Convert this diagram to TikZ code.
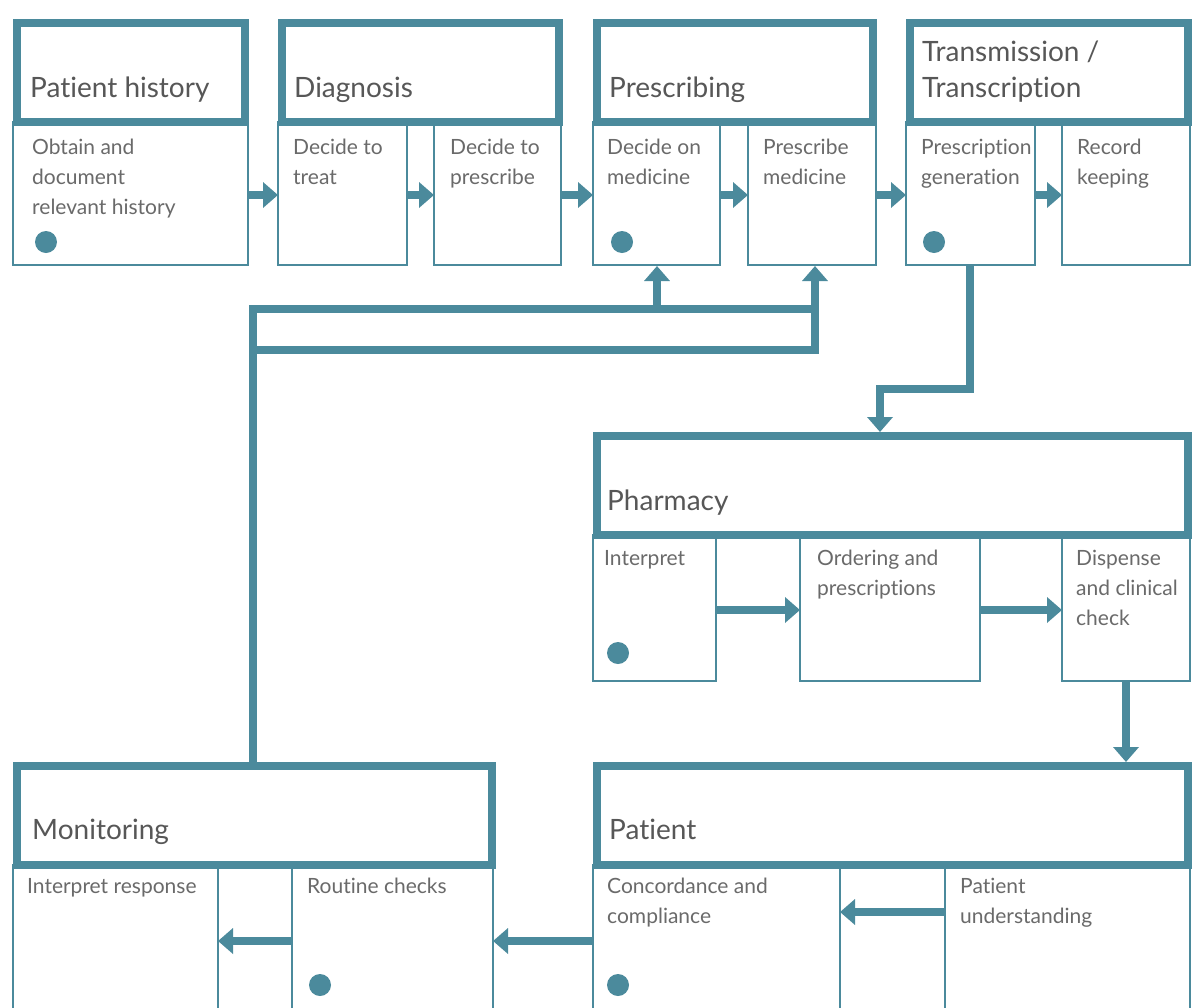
\documentclass[tikz,border=0pt]{standalone}
\usepackage{fontspec}
\setmainfont[Ligatures=NoCommon]{Lato}
\usetikzlibrary{arrows.meta}
\definecolor{tealc}{HTML}{4B8A9C}
\definecolor{txt}{HTML}{575757}
\definecolor{stxt}{HTML}{6A6A6A}
\tikzset{
  hdr/.style={draw=tealc, line width=8pt, fill=white, inner sep=0pt, outer sep=0pt, anchor=north west},
  subbox/.style={draw=tealc, line width=2.5pt, fill=white, inner sep=0pt, outer sep=0pt, anchor=north west},
  lbl/.style={text=txt, font=\fontsize{28}{36}\selectfont, anchor=base west, inner sep=0pt, align=left},
  stext/.style={text=stxt, font=\fontsize{21}{30}\selectfont, anchor=north west, inner sep=0pt, align=left},
  tdot/.style={circle, fill=tealc, minimum size=22pt, inner sep=0pt},
  arr/.style={draw=tealc, line width=8pt, -{Triangle[width=25pt,length=15pt]}},
  conn/.style={draw=tealc, line width=7.5pt, line cap=rect},
}
\begin{document}
\begin{tikzpicture}[x=1pt, y=-1pt]
\useasboundingbox (0,0) rectangle (1197,1007);
\begin{scope}
\clip (0,0) rectangle (1197,1007);
% ---------- top row: sub boxes ----------
\node[subbox, minimum width=235pt, minimum height=143pt] (ph1) at (13,122) {};
\node[subbox, minimum width=129pt, minimum height=143pt] (dt) at (278,122) {};
\node[subbox, minimum width=127pt, minimum height=143pt] (dp) at (434,122) {};
\node[subbox, minimum width=127pt, minimum height=143pt] (dm) at (593,122) {};
\node[subbox, minimum width=128pt, minimum height=143pt] (pm) at (748,122) {};
\node[subbox, minimum width=129pt, minimum height=143pt] (pg) at (906,122) {};
\node[subbox, minimum width=128pt, minimum height=143pt] (rk) at (1062,122) {};
% headers
\node[hdr, minimum width=228pt, minimum height=99pt] (ph) at (17,23) {};
\node[hdr, minimum width=277pt, minimum height=99pt] (dg) at (282,23) {};
\node[hdr, minimum width=276pt, minimum height=99pt] (pr) at (597,23) {};
\node[hdr, minimum width=278pt, minimum height=99pt] (tr) at (910,23) {};
% header labels
\node[lbl] (lph) at (30,97) {Patient history};
\node[lbl] (ldg) at (294,97) {Diagnosis};
\node[lbl] (lpr) at (609,97) {Prescribing};
\node[lbl] (ltr1) at (922,61) {Transmission /};
\node[lbl] (ltr2) at (922,97) {Transcription};
% sub texts
\node[stext] (t1) at (32,139) {Obtain and\\document\\relevant history};
\node[stext] (t2) at (293,139) {Decide to\\treat};
\node[stext] (t3) at (450,139) {Decide to\\prescribe};
\node[stext] (t4) at (607,139) {Decide on\\medicine};
\node[stext] (t5) at (763,139) {Prescribe\\medicine};
\node[stext] (t6) at (921,139) {Prescription\\generation};
\node[stext] (t7) at (1077,139) {Record\\keeping};
% dots
\node[tdot] (d1) at (46,242) {};
\node[tdot] (d2) at (622,242) {};
\node[tdot] (d3) at (934,242) {};
% top arrows
\draw[arr] (ph1.east |- 0,195) -- (dt.west |- 0,195);
\draw[arr] (dt.east |- 0,195) -- (dp.west |- 0,195);
\draw[arr] (dp.east |- 0,195) -- (dm.west |- 0,195);
\draw[arr] (dm.east |- 0,195) -- (pm.west |- 0,195);
\draw[arr] (pm.east |- 0,195) -- (pg.west |- 0,195);
\draw[arr] (pg.east |- 0,195) -- (rk.west |- 0,195);

% ---------- pharmacy ----------
\node[subbox, minimum width=123pt, minimum height=146pt] (ip) at (593,535) {};
\node[subbox, minimum width=180pt, minimum height=146pt] (op) at (800,535) {};
\node[subbox, minimum width=128pt, minimum height=146pt] (dc) at (1062,535) {};
\node[hdr, minimum width=591pt, minimum height=99pt] (phar) at (597,436) {};
\node[lbl] (lphar) at (607,510) {Pharmacy};
\node[stext] (t8) at (604,550) {Interpret};
\node[stext] (t9) at (817,550) {Ordering and\\prescriptions};
\node[stext] (t10) at (1076,550) {Dispense\\and clinical\\check};
\node[tdot] (d4) at (618,653) {};
\draw[arr] (ip.east |- 0,610) -- (op.west |- 0,610);
\draw[arr] (op.east |- 0,610) -- (dc.west |- 0,610);

% ---------- patient ----------
\node[subbox, minimum width=247pt, minimum height=155pt] (pc) at (593,865) {};
\node[subbox, minimum width=245pt, minimum height=155pt] (pu) at (945,865) {};
\node[hdr, minimum width=591pt, minimum height=99pt] (pat) at (597,766) {};
\node[lbl] (lpat) at (609,839) {Patient};
\node[stext] (t11) at (607,878) {Concordance and\\compliance};
\node[stext] (t12) at (960,878) {Patient\\understanding};
\node[tdot] (d5) at (618,985) {};
\draw[arr] (pu.west |- 0,912) -- (pc.east |- 0,912);

% ---------- monitoring ----------
\node[subbox, minimum width=205pt, minimum height=155pt] (ir) at (13,865) {};
\node[subbox, minimum width=201pt, minimum height=155pt] (rc) at (292,865) {};
\node[hdr, minimum width=475pt, minimum height=99pt] (mon) at (17,766) {};
\node[lbl] (lmon) at (32,839) {Monitoring};
\node[stext] (t13) at (27,878) {Interpret response};
\node[stext] (t14) at (307,878) {Routine checks};
\node[tdot] (d6) at (320,985) {};
\draw[arr] (rc.west |- 0,941) -- (ir.east |- 0,941);
\draw[arr] (pc.west |- 0,941) -- (rc.east |- 0,941);

% ---------- long connectors ----------
\coordinate (tA) at (880,389);
\draw[arr] (pg.south -| 970,0) |- (tA) -- ([yshift=4pt]phar.north -| tA);
\draw[arr] (dc.south) -- ([yshift=4pt]pat.north -| dc.south);

\coordinate (fA) at (253,309);
\coordinate (fB) at (815,309);
\coordinate (fC) at (815,350);
\coordinate (fD) at (657,309);
\draw[conn] ([yshift=4pt]mon.north -| fA) -- (fA) -- (fB);
\draw[conn] (fA |- fC) -- (fC);
\draw[arr] (fC) -- ([yshift=-1pt]pm.south -| fC);
\draw[arr] (fD) -- ([yshift=-1pt]dm.south -| fD);
\end{scope}
\end{tikzpicture}
\end{document}
